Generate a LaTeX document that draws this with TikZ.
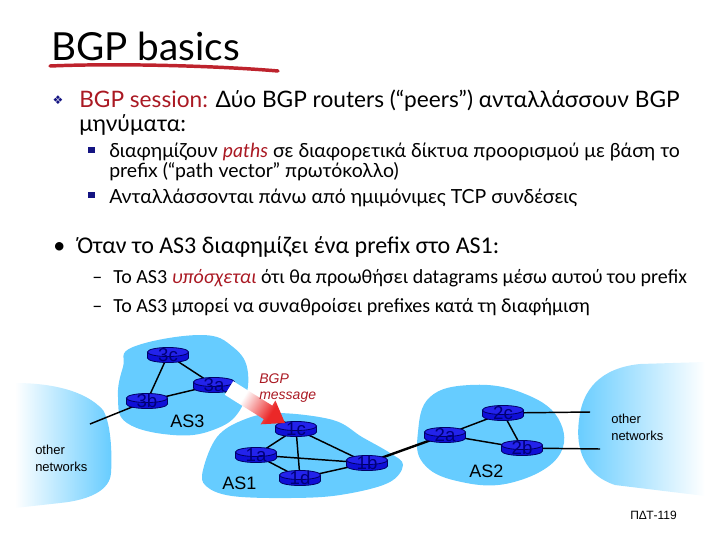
\documentclass[tikz,border=0pt]{standalone}
\usepackage{fontspec}
\setmainfont{Lato}
\newfontfamily\calfont{Carlito}
\newfontfamily\arialfont{Liberation Sans}
\newfontfamily\dvfont{DejaVu Sans}
\pgfdeclarelayer{blobs}
\pgfdeclarelayer{links}
\pgfsetlayers{blobs,links,main}
\definecolor{blobblue}{RGB}{102,204,255}
\definecolor{routerblue}{RGB}{15,15,215}
\definecolor{routertop}{RGB}{35,35,235}
\definecolor{routeredge}{RGB}{0,0,100}
\definecolor{routertext}{RGB}{0,0,120}
\definecolor{darkred}{RGB}{170,25,35}
\definecolor{ulred}{RGB}{190,35,45}
\definecolor{bulletnavy}{RGB}{20,20,130}
\definecolor{arrowred}{RGB}{235,40,40}
\pgfdeclarehorizontalshading{arrowshade}{100bp}{color(0bp)=(white); color(38bp)=(white); color(68bp)=(arrowred); color(100bp)=(arrowred)}
\tikzset{
  router/.style={shape=rectangle, minimum width=30.75pt, minimum height=11pt, inner sep=0pt,
    font=\arialfont\fontsize{14pt}{14pt}\selectfont, text=routertext},
  link/.style={draw=black, line width=1.1pt},
  thicklink/.style={draw=black, line width=1.8pt},
  txt/.style={anchor=base west, inner sep=0pt},
  bodyA/.style={txt, font=\fontsize{17pt}{20pt}\selectfont},
  bodyB/.style={txt, font=\fontsize{14.6pt}{17pt}\selectfont},
  calA/.style={txt, font=\calfont\fontsize{18pt}{21pt}\selectfont},
  calB/.style={txt, font=\calfont\fontsize{15pt}{17pt}\selectfont},
  astxt/.style={txt, font=\arialfont\fontsize{13.5pt}{16pt}\selectfont},
  nettxt/.style={txt, font=\arialfont\fontsize{9.75pt}{12pt}\selectfont},
  msgtxt/.style={txt, font=\arialfont\itshape\fontsize{10.5pt}{12pt}\selectfont, text=darkred},
  sqbullet/.style={fill=bulletnavy, minimum size=5pt, inner sep=0pt},
  cylbody/.style={fill=routerblue, draw=routeredge, line width=0.6pt},
  cyltop/.style={fill=routertop, draw=routeredge, line width=0.6pt}
}
\begin{document}
\begin{tikzpicture}[x=0.75pt,y=-0.75pt]
\useasboundingbox (0,0) rectangle (720,540);

% ---------- title ----------
\node[txt, font=\fontsize{29pt}{35pt}\selectfont] (title) at (51,60) {BGP basics};
\draw[ulred, line width=2.6pt, line cap=round] (50,66) .. controls (120,63) and (220,66) .. (278,71);

% ---------- first block ----------
\node[font=\dvfont\fontsize{9pt}{9pt}\selectfont, text=bulletnavy, inner sep=0pt] (b1) at (58,100) {❖};
\node[bodyA] (l1) at (79,107) {\textcolor{darkred}{BGP session:} Δύο BGP routers (“peers”) ανταλλάσσουν BGP};
\node[bodyA] (l2) at (79,131) {μηνύματα:};
\node[sqbullet] (s1) at (91.5,150) {};
\node[bodyB] (l3) at (109,157) {διαφημίζουν \textcolor{darkred}{\textit{paths}} σε διαφορετικά δίκτυα προορισμού με βάση το};
\node[bodyB] (l4) at (109,177) {prefix (“path vector” πρωτόκολλο)};
\node[sqbullet] (s2) at (91.5,195) {};
\node[bodyB] (l5) at (109,203) {Ανταλλάσσονται πάνω από ημιμόνιμες TCP συνδέσεις};

% ---------- second block ----------
\node[calA] (b2) at (53,253) {•};
\node[calA] (m1) at (77,253) {Όταν το AS3 διαφημίζει ένα prefix στο AS1:};
\node[calB] (d1) at (92,283) {–};
\node[calB] (m2) at (113,283) {Το AS3 \textcolor{darkred}{\textit{υπόσχεται}} ότι θα προωθήσει datagrams μέσω αυτού του prefix};
\node[calB] (d2) at (92,312) {–};
\node[calB] (m3) at (113,312) {Το AS3 μπορεί να συναθροίσει prefixes κατά τη διαφήμιση};

% ---------- blobs ----------
\begin{pgfonlayer}{blobs}
\fill[blobblue] plot[smooth cycle, tension=0.7] coordinates {(133,347) (200,335) (233,347) (248,373) (240,410) (213,430) (173,435) (127,423) (118,397) (123,367)};
\fill[blobblue] plot[smooth cycle, tension=0.6] coordinates {(217,437) (243,420) (277,413) (333,420) (362,437) (390,453) (403,465) (388,483) (340,495) (290,498) (232,496) (206,486) (203,470)};
\fill[blobblue] plot[smooth cycle, tension=0.7] coordinates {(430,397) (470,385) (520,392) (558,418) (558,457) (510,483) (457,481) (423,463) (418,432)};
\shade[left color=white, right color=blobblue] (15,383) .. controls (50,383) and (85,390) .. (103,410) .. controls (112,425) and (112,460) .. (111,473) .. controls (110,490) and (90,500) .. (60,503) -- (15,508) -- cycle;
\shade[left color=blobblue, right color=white] (705,362) -- (640,364) .. controls (600,368) and (582,390) .. (579,420) .. controls (575,450) and (585,475) .. (615,485) -- (705,496) -- cycle;
\end{pgfonlayer}

% ---------- routers ----------
\node[router] (r3c) at (168,355) {3c};
\node[router] (r3a) at (214,385) {3a};
\node[router] (r3b) at (147,401) {3b};
\node[router] (r1c) at (296,429) {1c};
\node[router] (r1a) at (256,455) {1a};
\node[router] (r1d) at (300,478) {1d};
\node[router] (r1b) at (367,463) {1b};
\node[router] (r2a) at (445,435) {2a};
\node[router] (r2c) at (503,413) {2c};
\node[router] (r2b) at (522,448) {2b};

\coordinate (onL) at (90,424);
\coordinate (onR1) at (590,412);
\coordinate (onR2) at (600,449);

% ---------- links and router bodies ----------
\begin{pgfonlayer}{links}
\draw[link] (r3c.center) -- (r3a.center);
\draw[link] (r3c.center) -- (r3b.center);
\draw[link] (r3b.center) -- (r3a.center);
\draw[link] (r3b.center) -- (onL);
\draw[thicklink] (r3a.center) -- (r1c.center);
\draw[link] (r1c.center) -- (r1a.center);
\draw[link] (r1c.center) -- (r1d.center);
\draw[link] (r1c.center) -- (r1b.center);
\draw[link] (r1a.center) -- (r1b.center);
\draw[link] (r1a.center) -- (r1d.center);
\draw[link] (r1d.center) -- (r1b.center);
\draw[thicklink] (r1b.center) -- (r2a.center);
\draw[link] (r2a.center) -- (r2c.center);
\draw[link] (r2a.center) -- (r2b.center);
\draw[link] (r2c.center) -- (r2b.center);
\draw[link] (r2c.center) -- (onR1);
\draw[link] (r2b.center) -- (onR2);
\foreach \n in {r3c,r3a,r3b,r1c,r1a,r1d,r1b,r2a,r2c,r2b}{
  \draw[cylbody] ([shift={(0,3)}]\n.center) ellipse [x radius=15.4pt, y radius=3.4pt];
  \fill[routerblue] ([shift={(-20.5,-3)}]\n.center) rectangle ([shift={(20.5,3)}]\n.center);
  \draw[routeredge, line width=0.6pt] ([shift={(-20.5,-3)}]\n.center) -- ([shift={(-20.5,3)}]\n.center)
    ([shift={(20.5,-3)}]\n.center) -- ([shift={(20.5,3)}]\n.center);
  \draw[cyltop] ([shift={(0,-3)}]\n.center) ellipse [x radius=15.4pt, y radius=3.4pt];
}
\end{pgfonlayer}

% ---------- BGP message arrow ----------
\shade[shading=arrowshade, shading angle=-32]
  (233.2,381.2) -- (272.3,405.6) -- (275.4,400.5) -- (285,423) -- (260.6,424.3) -- (263.8,419.2) -- (224.8,394.8) -- cycle;
\node[msgtxt] (bgp1) at (259,383) {BGP};
\node[msgtxt] (bgp2) at (259,399) {message};

% ---------- AS labels ----------
\node[astxt] (as3) at (170,427) {AS3};
\node[astxt] (as1) at (222,489) {AS1};
\node[astxt] (as2) at (469,477) {AS2};
\node[nettxt] (onl1) at (35,454) {other};
\node[nettxt] (onl2) at (35,471) {networks};
\node[nettxt] (onr1) at (611,423) {other};
\node[nettxt] (onr2) at (611,440) {networks};

\node[txt, font=\arialfont\fontsize{9pt}{10pt}\selectfont] (pg) at (630,519) {ΠΔΤ-119};
\end{tikzpicture}
\end{document}
